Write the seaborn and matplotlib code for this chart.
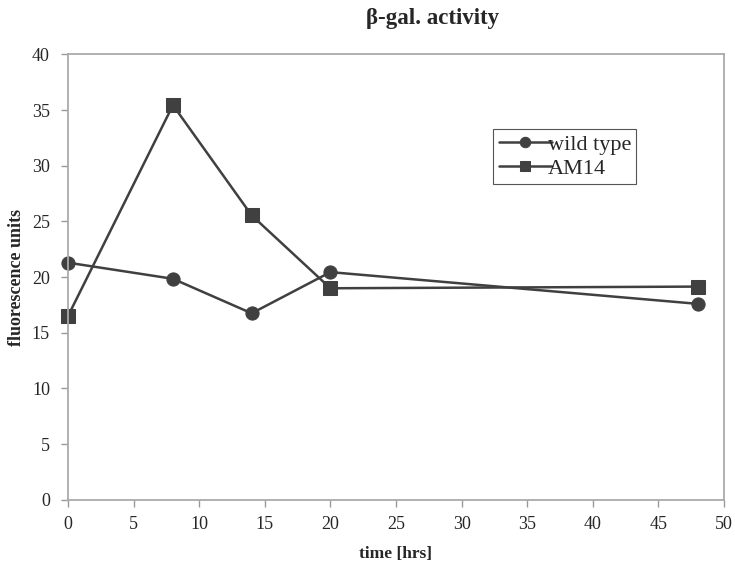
import matplotlib
matplotlib.use("Agg")
import matplotlib.pyplot as plt
import pandas as pd
import seaborn as sns

time_hrs = [0, 8, 14, 20, 48]
wild_type = [21.3, 19.85, 16.75, 20.45, 17.6]
am14 = [16.5, 35.45, 25.55, 19.0, 19.15]
series_names = ['wild type', 'AM14']

data = pd.DataFrame({
    'time': time_hrs * 2,
    'value': wild_type + am14,
    'strain': [series_names[0]] * len(time_hrs) + [series_names[1]] * len(time_hrs),
})

sns.set_style('white')
plt.rcParams['font.family'] = ['Liberation Serif', 'DejaVu Serif']

fig = plt.figure(figsize=(7.35, 5.7), dpi=100)
ax = fig.add_axes([0.0925, 0.1232, 0.8925, 0.7812])

line_color = '#404040'
sns.lineplot(data=data, x='time', y='value', hue='strain', style='strain',
             markers={'wild type': 'o', 'AM14': 's'}, dashes=False,
             palette=[line_color, line_color], markersize=9.5, linewidth=1.8,
             markeredgecolor=line_color, ax=ax)
for ln in ax.lines:
    ln.set_clip_on(False)

ax.set_xlim(0, 50)
ax.set_ylim(0, 40)
ax.set_xticks(range(0, 51, 5))
ax.set_yticks(range(0, 41, 5))
ax.tick_params(axis='both', labelsize=13, direction='out', length=5,
               color='#999999', width=1, bottom=True, left=True, pad=8)
ax.tick_params(axis='x', pad=7)
for side in ['left', 'bottom', 'top', 'right']:
    ax.spines[side].set_color('#aaaaaa')
    ax.spines[side].set_linewidth(1.3)

ax.set_xlabel('time [hrs]', fontsize=12.5, fontweight='bold', labelpad=9)
ax.set_ylabel('fluorescence units', fontsize=13, fontweight='bold', labelpad=5)
fig.text(0.588, 0.968, 'β-gal. activity', fontsize=16.5, fontweight='bold',
         ha='center', va='center')

leg = ax.legend(loc='upper left', bbox_to_anchor=(0.648, 0.833), fontsize=16,
                frameon=True, fancybox=False, edgecolor='#555555', framealpha=1,
                handlelength=2.4, handletextpad=-0.2, borderpad=0.25,
                labelspacing=0.15, borderaxespad=0)
leg.get_frame().set_linewidth(0.8)
for h in leg.legend_handles:
    h.set_markersize(7.5)

fig.savefig('out.png', dpi=100)
